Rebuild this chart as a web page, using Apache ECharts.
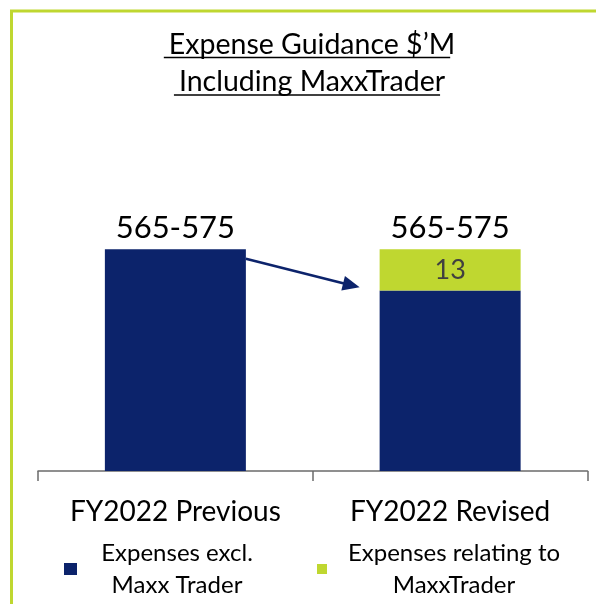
<!DOCTYPE html>
<html>
<head>
<meta charset="utf-8">
<script src="https://cdn.jsdelivr.net/npm/echarts@6/dist/echarts.min.js"></script>
<style>
html, body { margin: 0; padding: 0; background: #fff; }
#main { width: 596px; height: 604px; }
</style>
</head>
<body>
<div id="main"></div>
<script>
// data (axis starts at 500, slide is not to scale)
var categories = ['FY2022 Previous', 'FY2022 Revised'];
var exclMaxx = [570, 557];
var maxxTrader = ['-', 13];
var totals = [570, 570];
var rangeLabels = ['565-575', '565-575'];
var titleLines = ['Expense Guidance $\u2019M', 'Including MaxxTrader'];
var legendNames = ['Expenses excl. Maxx Trader', 'Expenses relating to MaxxTrader'];
var legendText = ['Expenses excl.\nMaxx Trader', 'Expenses relating to\nMaxxTrader'];
var arrowFrom = [0, 567];
var arrowTo = [1, 558];

var NAVY = '#0c236b';
var LIME = '#bfd730';
var FONT = 'Lato';
var TITLE_SIZE = 28.5;

var chart = echarts.init(document.getElementById('main'));

var option = {
	animation: false,
	backgroundColor: '#fff',
	title: {
		text: titleLines.join('\n'),
		left: 307,
		top: 21,
		textAlign: 'center',
		padding: 5,
		textStyle: {
			fontFamily: FONT,
			fontSize: TITLE_SIZE,
			fontWeight: 'normal',
			lineHeight: 37,
			color: '#000',
			align: 'center'
		}
	},
	grid: {
		left: 38,
		right: 8.5,
		top: 91,
		bottom: 133
	},
	legend: [{
		data: [legendNames[0]],
		left: 59,
		top: 536,
		icon: 'rect',
		itemWidth: 13,
		itemHeight: 12,
		selectedMode: false,
		formatter: function() {
			return '{a|' + legendText[0] + '}';
		},
		textStyle: {
			rich: {
				a: { width: 190, align: 'center', fontFamily: FONT, fontSize: 24, lineHeight: 32, color: '#000' }
			}
		}
	}, {
		data: [legendNames[1]],
		left: 312,
		top: 536,
		icon: 'rect',
		itemWidth: 10,
		itemHeight: 10,
		selectedMode: false,
		formatter: function() {
			return '{a|' + legendText[1] + '}';
		},
		textStyle: {
			rich: {
				a: { width: 244, align: 'center', fontFamily: FONT, fontSize: 24, lineHeight: 32, color: '#000' }
			}
		}
	}],
	xAxis: {
		type: 'category',
		data: categories,
		axisLine: { lineStyle: { color: '#6b6b6b', width: 1.5 } },
		axisTick: { show: true, length: 10, lineStyle: { color: '#6b6b6b', width: 1.5 } },
		axisLabel: {
			margin: 27,
			fontFamily: FONT,
			fontSize: 28,
			lineHeight: 28,
			color: '#000'
		}
	},
	yAxis: {
		type: 'value',
		min: 500,
		max: 620,
		show: false,
		splitLine: { show: false }
	},
	series: [{
		name: legendNames[0],
		type: 'bar',
		stack: 'exp',
		barWidth: 141,
		data: exclMaxx,
		itemStyle: { color: NAVY },
		silent: true
	}, {
		name: legendNames[1],
		type: 'bar',
		stack: 'exp',
		barWidth: 141,
		data: maxxTrader,
		itemStyle: { color: LIME },
		silent: true,
		label: {
			show: true,
			position: 'inside',
			fontFamily: FONT,
			fontSize: 27,
			color: '#404040'
		}
	}, {
		name: 'range',
		type: 'scatter',
		data: totals,
		symbolSize: 0,
		silent: true,
		z: 5,
		itemStyle: { opacity: 1 },
		label: {
			show: true,
			position: 'top',
			distance: 6,
			fontFamily: FONT,
			fontSize: 31,
			lineHeight: 31,
			color: '#000',
			formatter: function(p) {
				return rangeLabels[p.dataIndex];
			}
		}
	}]
};
chart.setOption(option);

// underline the title, slide border and the arrow between the bars
var ctx = document.createElement('canvas').getContext('2d');
ctx.font = TITLE_SIZE + 'px ' + FONT;
var underlineY = [57.5, 95];
var graphics = [];
for (var i = 0; i < titleLines.length; i++) {
	var w = ctx.measureText(titleLines[i]).width;
	graphics.push({
		type: 'line',
		shape: { x1: 307 - w / 2, y1: underlineY[i], x2: 307 + w / 2, y2: underlineY[i] },
		style: { stroke: '#000', lineWidth: 1.5 },
		silent: true
	});
}
graphics.push({
	type: 'polyline',
	shape: { points: [[11.5, 604], [11.5, 11], [596, 11]] },
	style: { stroke: LIME, lineWidth: 3, fill: null },
	silent: true
});

var half = 141 / 2;
var p0 = chart.convertToPixel({ seriesIndex: 0 }, arrowFrom);
var p1 = chart.convertToPixel({ seriesIndex: 0 }, arrowTo);
var sx = p0[0] + half, sy = p0[1];
var tx = p1[0] - half - 20, ty = p1[1];
var dx = tx - sx, dy = ty - sy;
var len = Math.sqrt(dx * dx + dy * dy);
var ux = dx / len, uy = dy / len;
var headL = 17, headW = 7.5;
var bx = tx - ux * headL, by = ty - uy * headL;
graphics.push({
	type: 'line',
	shape: { x1: sx, y1: sy, x2: bx + ux * 2, y2: by + uy * 2 },
	style: { stroke: NAVY, lineWidth: 2.6 },
	silent: true
});
graphics.push({
	type: 'polygon',
	shape: { points: [[tx, ty], [bx - uy * headW, by + ux * headW], [bx + uy * headW, by - ux * headW]] },
	style: { fill: NAVY },
	silent: true
});
chart.setOption({ graphic: graphics });
</script>
</body>
</html>
